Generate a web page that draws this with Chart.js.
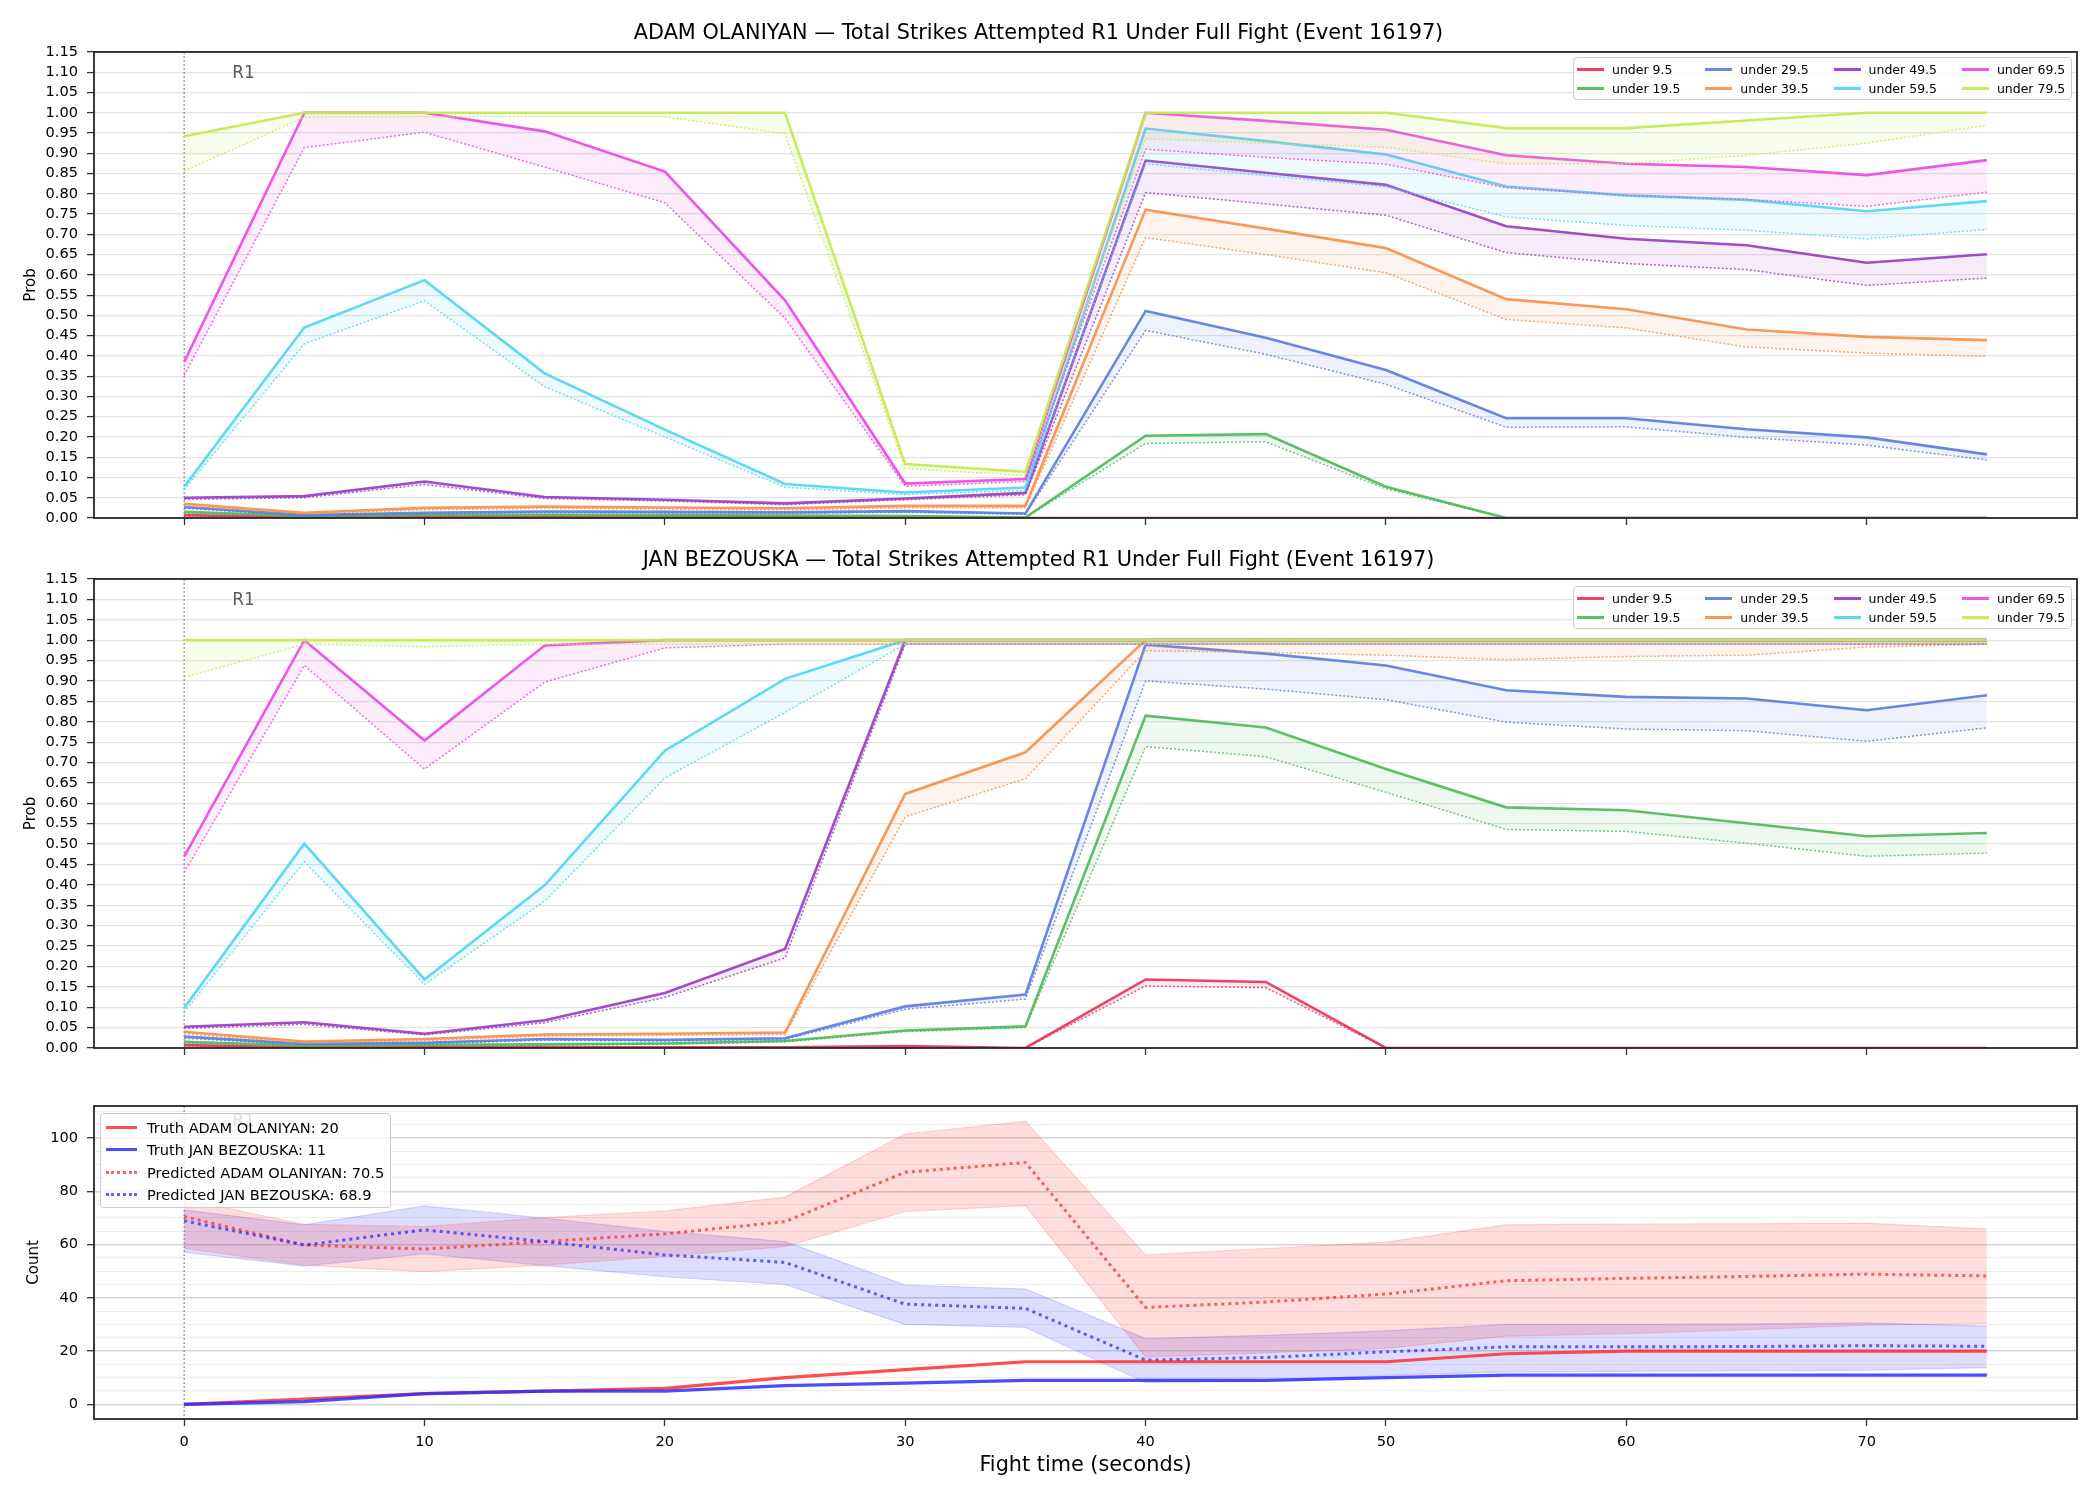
<!DOCTYPE html>
<html>
<head>
<meta charset="utf-8">
<script src="https://cdn.jsdelivr.net/npm/chart.js@4.4.1/dist/chart.umd.min.js"></script>
<style>
  body { margin: 0; background: #fff; }
  #page { position: relative; width: 2100px; height: 1500px; overflow: hidden; background: #fff; font-family: 'DejaVu Sans', sans-serif; }
  .panel { position: absolute; left: 0; }
  .legend { position: absolute; box-sizing: border-box; background: rgba(255,255,255,0.8); border: 1px solid #cccccc; border-radius: 4px; color: #000; }
  .legend.thr { display: grid; grid-template-rows: 19.4px 19.4px; grid-auto-flow: column; grid-auto-columns: 128.3px; padding: 1.6px 0 0 3px; font-size: 12.5px; }
  .legend.cnt { padding: 1.8px 0 0 5px; font-size: 14.6px; }
  .item { display: flex; align-items: center; white-space: nowrap; }
  .thr .item { height: 19.4px; }
  .cnt .item { height: 22.5px; }
  .sw { display: inline-block; height: 0; }
  .thr .sw { width: 27px; margin-right: 8px; border-top: 3px solid; }
  .cnt .sw { width: 31px; margin-right: 10px; border-top-width: 3.5px; }
</style>
</head>
<body>
<div id="page">
  <canvas id="c1" class="panel" width="2100" height="545" style="top:0px"></canvas>
  <canvas id="c2" class="panel" width="2100" height="535" style="top:540px"></canvas>
  <canvas id="c3" class="panel" width="2100" height="420" style="top:1080px"></canvas>
  <div id="leg1" class="legend thr" style="left:1573px; top:57px; width:499px; height:43px"></div>
  <div id="leg2" class="legend thr" style="left:1573px; top:586px; width:499px; height:43px"></div>
  <div id="leg3" class="legend cnt" style="left:100px; top:1113px; width:291px; height:95px"></div>
</div>
<script>
// ---- data ----
const times = [0, 5, 10, 15, 20, 25, 30, 35, 40, 45, 50, 55, 60, 65, 70, 75];
const thresholds = [9.5, 19.5, 29.5, 39.5, 49.5, 59.5, 69.5, 79.5];
const probTicks = [0.00, 0.05, 0.10, 0.15, 0.20, 0.25, 0.30, 0.35, 0.40, 0.45, 0.50, 0.55,
                   0.60, 0.65, 0.70, 0.75, 0.80, 0.85, 0.90, 0.95, 1.00, 1.05, 1.10, 1.15];
const timeTicks = [0, 10, 20, 30, 40, 50, 60, 70];
const countTicks = [0, 5, 10, 15, 20, 25, 30, 35, 40, 45, 50, 55, 60, 65, 70, 75, 80, 85, 90, 95, 100, 105, 110];
const countLabelTicks = [0, 20, 40, 60, 80, 100];

const fighterA = 'ADAM OLANIYAN';
const fighterB = 'JAN BEZOUSKA';
const eventId = 16197;
const roundStart = 0;
const roundLabel = 'R1';

// ADAM OLANIYAN: solid and dotted curves per threshold
const olaU9   = [0.007, 0.002, 0.003, 0.002, 0.002, 0.002, 0.002, 0, 0, 0, 0, 0, 0, 0, 0, 0];
const olaU9d  = [0.005, 0.001, 0.002, 0.001, 0.001, 0.001, 0.001, 0, 0, 0, 0, 0, 0, 0, 0, 0];
const olaU19  = [0.015, 0.005, 0.008, 0.008, 0.007, 0.006, 0.005, 0.001, 0.203, 0.207, 0.077, 0, 0, 0, 0, 0];
const olaU19d = [0.012, 0.004, 0.006, 0.006, 0.005, 0.005, 0.004, 0.001, 0.184, 0.188, 0.072, 0, 0, 0, 0, 0];
const olaU29  = [0.027, 0.007, 0.013, 0.016, 0.015, 0.014, 0.017, 0.011, 0.511, 0.445, 0.365, 0.246, 0.246, 0.219, 0.199, 0.157];
const olaU29d = [0.024, 0.005, 0.010, 0.013, 0.012, 0.011, 0.014, 0.009, 0.463, 0.404, 0.330, 0.224, 0.225, 0.199, 0.180, 0.143];
const olaU39  = [0.035, 0.013, 0.025, 0.028, 0.026, 0.024, 0.030, 0.030, 0.761, 0.714, 0.666, 0.540, 0.515, 0.465, 0.447, 0.439];
const olaU39d = [0.030, 0.010, 0.020, 0.024, 0.022, 0.020, 0.025, 0.025, 0.692, 0.650, 0.605, 0.490, 0.469, 0.422, 0.407, 0.399];
const olaU49  = [0.050, 0.054, 0.090, 0.052, 0.045, 0.036, 0.048, 0.062, 0.882, 0.852, 0.822, 0.720, 0.689, 0.673, 0.630, 0.651];
const olaU49d = [0.046, 0.050, 0.083, 0.048, 0.042, 0.033, 0.045, 0.057, 0.803, 0.775, 0.747, 0.655, 0.628, 0.613, 0.574, 0.592];
const olaU59  = [0.077, 0.470, 0.587, 0.357, 0.218, 0.084, 0.063, 0.075, 0.961, 0.930, 0.897, 0.818, 0.796, 0.785, 0.757, 0.782];
const olaU59d = [0.070, 0.430, 0.536, 0.324, 0.200, 0.076, 0.058, 0.068, 0.874, 0.845, 0.817, 0.743, 0.722, 0.710, 0.689, 0.712];
const olaU69  = [0.385, 1.000, 1.000, 0.954, 0.855, 0.537, 0.085, 0.096, 1.000, 0.980, 0.958, 0.895, 0.874, 0.866, 0.846, 0.883];
const olaU69d = [0.352, 0.914, 0.952, 0.866, 0.778, 0.493, 0.078, 0.090, 0.910, 0.890, 0.873, 0.815, 0.796, 0.786, 0.769, 0.804];
const olaU79  = [0.942, 1.000, 1.000, 1.000, 1.000, 1.000, 0.133, 0.114, 1.000, 1.000, 1.000, 0.962, 0.962, 0.981, 1.000, 1.000];
const olaU79d = [0.856, 0.989, 0.990, 0.990, 0.990, 0.948, 0.122, 0.105, 0.936, 0.925, 0.915, 0.874, 0.874, 0.895, 0.925, 0.969];

// JAN BEZOUSKA
const bezU9   = [0.007, 0.002, 0.002, 0.002, 0.002, 0.002, 0.005, 0, 0.168, 0.162, 0, 0, 0, 0, 0, 0];
const bezU9d  = [0.005, 0.001, 0.001, 0.001, 0.001, 0.001, 0.004, 0, 0.152, 0.148, 0, 0, 0, 0, 0, 0];
const bezU19  = [0.015, 0.006, 0.008, 0.009, 0.011, 0.017, 0.043, 0.053, 0.815, 0.786, 0.684, 0.590, 0.583, 0.551, 0.519, 0.527];
const bezU19d = [0.012, 0.005, 0.006, 0.007, 0.009, 0.015, 0.040, 0.050, 0.739, 0.714, 0.627, 0.536, 0.531, 0.502, 0.470, 0.478];
const bezU29  = [0.028, 0.010, 0.013, 0.022, 0.020, 0.024, 0.102, 0.131, 0.989, 0.967, 0.938, 0.877, 0.861, 0.857, 0.828, 0.865];
const bezU29d = [0.024, 0.008, 0.010, 0.019, 0.017, 0.021, 0.095, 0.120, 0.900, 0.880, 0.854, 0.799, 0.782, 0.778, 0.752, 0.785];
const bezU39  = [0.040, 0.016, 0.022, 0.033, 0.035, 0.038, 0.623, 0.725, 1.000, 1.000, 1.000, 1.000, 1.000, 1.000, 1.000, 1.000];
const bezU39d = [0.035, 0.012, 0.018, 0.029, 0.031, 0.033, 0.567, 0.660, 0.974, 0.970, 0.963, 0.952, 0.960, 0.963, 0.983, 0.990];
const bezU49  = [0.052, 0.063, 0.035, 0.068, 0.135, 0.243, 1.000, 1.000, 1.000, 1.000, 1.000, 1.000, 1.000, 1.000, 1.000, 1.000];
const bezU49d = [0.048, 0.058, 0.032, 0.062, 0.124, 0.221, 0.990, 0.990, 0.990, 0.990, 0.990, 0.990, 0.990, 0.990, 0.990, 0.990];
const bezU59  = [0.098, 0.501, 0.168, 0.399, 0.729, 0.905, 1.000, 1.000, 1.000, 1.000, 1.000, 1.000, 1.000, 1.000, 1.000, 1.000];
const bezU59d = [0.088, 0.457, 0.156, 0.360, 0.662, 0.823, 0.990, 0.990, 0.990, 0.990, 0.990, 0.990, 0.990, 0.990, 0.990, 0.990];
const bezU69  = [0.469, 1.000, 0.754, 0.987, 1.000, 1.000, 1.000, 1.000, 1.000, 1.000, 1.000, 1.000, 1.000, 1.000, 1.000, 1.000];
const bezU69d = [0.430, 0.938, 0.684, 0.897, 0.981, 0.990, 0.990, 0.990, 0.990, 0.990, 0.990, 0.990, 0.990, 0.990, 0.990, 0.990];
const bezU79  = [1.000, 1.000, 1.000, 1.000, 1.000, 1.000, 1.000, 1.000, 1.000, 1.000, 1.000, 1.000, 1.000, 1.000, 1.000, 1.000];
const bezU79d = [0.909, 0.990, 0.984, 0.990, 0.990, 0.990, 0.990, 0.990, 0.990, 0.990, 0.990, 0.990, 0.990, 0.990, 0.990, 0.990];

// Counts
const truthA  = [0, 2, 4, 5, 6, 10, 13, 16, 16, 16, 16, 19, 20, 20, 20, 20];
const truthB  = [0, 1, 4, 5, 5, 7, 8, 9, 9, 9, 10, 11, 11, 11, 11, 11];
const predA   = [70.5, 59.8, 58.3, 61.1, 64.0, 68.6, 87.1, 90.8, 36.4, 38.4, 41.4, 46.4, 47.3, 48.0, 48.9, 48.2];
const predB   = [68.9, 59.8, 65.5, 61.1, 56.1, 53.3, 37.6, 36.0, 16.6, 17.6, 19.7, 21.6, 21.6, 21.7, 22.0, 21.8];
const predAHi = [77.0, 67.6, 66.7, 70.1, 72.6, 77.8, 101.5, 106.3, 56.1, 58.5, 60.9, 67.4, 67.7, 67.8, 68.0, 65.8];
const predALo = [58.6, 52.3, 49.8, 52.3, 55.5, 59.2, 72.4, 74.6, 17.8, 19.3, 21.0, 25.6, 26.5, 28.0, 29.7, 30.4];
const predBHi = [73.0, 67.4, 74.5, 69.9, 64.9, 61.1, 44.8, 43.3, 24.7, 25.9, 27.6, 30.0, 30.0, 30.2, 30.6, 29.4];
const predBLo = [57.1, 51.9, 56.5, 52.1, 47.9, 45.0, 30.0, 28.9, 8.2, 8.6, 10.9, 12.2, 12.4, 12.6, 12.8, 13.8];

// ---- styling ----
const thrColors = ['#e8345a', '#4fba5a', '#5a7de0', '#f7904b', '#9a3dc4', '#50d6f2', '#ee46e6', '#c2ec4e'];
const colA = '#ff2e2e';
const colB = '#2e2eff';

Chart.defaults.font.family = "'DejaVu Sans', sans-serif";
Chart.defaults.color = '#000';

const rgba = (hex, a) => {
  const n = parseInt(hex.slice(1), 16);
  return `rgba(${n >> 16},${(n >> 8) & 255},${n & 255},${a})`;
};
const pts = arr => arr.map((v, i) => ({ x: times[i], y: v }));

// spines round the plot area
const framePlugin = {
  id: 'frame',
  afterDraw(chart) {
    const { ctx, chartArea: a } = chart;
    ctx.save();
    ctx.strokeStyle = '#262626';
    ctx.lineWidth = 1.8;
    ctx.strokeRect(a.left, a.top, a.right - a.left, a.bottom - a.top);
    ctx.restore();
  }
};

// round start marker
const roundPlugin = {
  id: 'roundMark',
  beforeDatasetsDraw(chart, args, opts) {
    const { ctx, chartArea: a, scales: { x } } = chart;
    const px = x.getPixelForValue(roundStart);
    ctx.save();
    ctx.strokeStyle = '#777';
    ctx.lineWidth = 1;
    ctx.setLineDash([2, 2]);
    ctx.beginPath();
    ctx.moveTo(px, a.top);
    ctx.lineTo(px, a.bottom);
    ctx.stroke();
    ctx.setLineDash([]);
    ctx.fillStyle = '#5a5a5a';
    ctx.font = "17px 'DejaVu Sans'";
    ctx.textBaseline = 'middle';
    ctx.fillText(roundLabel, x.getPixelForValue(roundStart + 2), a.top + opts.yFrac * (a.bottom - a.top));
    ctx.restore();
  }
};

const timeScale = (showLabels) => ({
  type: 'linear',
  min: -3.75,
  max: 78.75,
  afterBuildTicks: s => { s.ticks = timeTicks.map(v => ({ value: v })); },
  afterFit: s => { s.height = showLabels ? 81 : 27; },
  ticks: { display: showLabels, padding: 7, maxRotation: 0, autoSkip: false, font: { size: 14.6 } },
  grid: { drawOnChartArea: false, drawTicks: true, tickLength: 7, tickColor: '#333', tickWidth: 1.3 },
  border: { display: false },
  title: { display: showLabels, text: 'Fight time (seconds)', font: { size: 20.8 }, padding: { top: 0, bottom: 22 } }
});

function thresholdDatasets(solids, dots) {
  const ds = [];
  // highest threshold first so it is drawn on top
  for (let i = thresholds.length - 1; i >= 0; i--) {
    const c = thrColors[i];
    ds.push({
      label: 'under ' + thresholds[i],
      data: pts(solids[i]),
      borderColor: rgba(c, 0.92),
      borderWidth: 2.6,
      fill: false
    });
    ds.push({
      label: 'under ' + thresholds[i] + ' dotted',
      data: pts(dots[i]),
      borderColor: rgba(c, 0.8),
      borderWidth: 1.5,
      borderDash: [2, 2],
      backgroundColor: rgba(c, 0.1),
      fill: '-1'
    });
  }
  return ds;
}

function probChart(id, fighter, solids, dots, titlePadTop) {
  return new Chart(document.getElementById(id), {
    type: 'line',
    data: { datasets: thresholdDatasets(solids, dots) },
    options: {
      responsive: false,
      animation: false,
      devicePixelRatio: 1,
      layout: { padding: { left: 0, right: 23, top: 0, bottom: 0 } },
      elements: { point: { radius: 0 }, line: { tension: 0 } },
      plugins: {
        legend: { display: false },
        tooltip: { enabled: false },
        title: {
          display: true,
          text: `${fighter} — Total Strikes Attempted R1 Under Full Fight (Event ${eventId})`,
          font: { size: 20.8, weight: 'normal' },
          color: '#000',
          padding: { top: titlePadTop, bottom: 6 }
        },
        roundMark: { yFrac: 0.047 }
      },
      scales: {
        x: timeScale(false),
        y: {
          min: 0,
          max: 1.15,
          afterBuildTicks: s => { s.ticks = probTicks.map(v => ({ value: v })); },
          afterFit: s => { s.width = 94; },
          ticks: { callback: v => v.toFixed(2), padding: 9, autoSkip: false, font: { size: 14.6 } },
          grid: { color: '#e3e3e3', lineWidth: 1.2, tickLength: 7, tickColor: '#333', tickWidth: 1.3 },
          border: { display: false },
          title: { display: true, text: 'Prob', font: { size: 15 }, padding: { top: 22, bottom: 0 } }
        }
      }
    },
    plugins: [framePlugin, roundPlugin]
  });
}

probChart('c1', fighterA,
  [olaU9, olaU19, olaU29, olaU39, olaU49, olaU59, olaU69, olaU79],
  [olaU9d, olaU19d, olaU29d, olaU39d, olaU49d, olaU59d, olaU69d, olaU79d], 21);

probChart('c2', fighterB,
  [bezU9, bezU19, bezU29, bezU39, bezU49, bezU59, bezU69, bezU79],
  [bezU9d, bezU19d, bezU29d, bezU39d, bezU49d, bezU59d, bezU69d, bezU79d], 8);

// count panel
const isMajor = v => countLabelTicks.includes(v);
new Chart(document.getElementById('c3'), {
  type: 'line',
  data: {
    datasets: [
      { label: `Truth ${fighterB}`, data: pts(truthB), borderColor: rgba(colB, 0.85), borderWidth: 3.2, fill: false },
      { label: `Truth ${fighterA}`, data: pts(truthA), borderColor: rgba(colA, 0.85), borderWidth: 3.2, fill: false },
      { label: `Predicted ${fighterB}`, data: pts(predB), borderColor: rgba(colB, 0.75), borderWidth: 3, borderDash: [3, 4], fill: false },
      { label: `Predicted ${fighterA}`, data: pts(predA), borderColor: rgba(colA, 0.75), borderWidth: 3, borderDash: [3, 4], fill: false },
      { label: 'bandA hi', data: pts(predAHi), borderColor: rgba(colA, 0.18), borderWidth: 1.2, backgroundColor: rgba(colA, 0.16), fill: '+1' },
      { label: 'bandA lo', data: pts(predALo), borderColor: rgba(colA, 0.18), borderWidth: 1.2, fill: false },
      { label: 'bandB hi', data: pts(predBHi), borderColor: rgba(colB, 0.18), borderWidth: 1.2, backgroundColor: rgba(colB, 0.16), fill: '+1' },
      { label: 'bandB lo', data: pts(predBLo), borderColor: rgba(colB, 0.18), borderWidth: 1.2, fill: false }
    ]
  },
  options: {
    responsive: false,
    animation: false,
    devicePixelRatio: 1,
    layout: { padding: { left: 0, right: 23, top: 26, bottom: 0 } },
    elements: { point: { radius: 0 }, line: { tension: 0 } },
    plugins: {
      legend: { display: false },
      tooltip: { enabled: false },
      roundMark: { yFrac: 0.05 }
    },
    scales: {
      x: timeScale(true),
      y: {
        min: -5.5,
        max: 112,
        afterBuildTicks: s => { s.ticks = countTicks.map(v => ({ value: v })); },
        afterFit: s => { s.width = 94; },
        ticks: { callback: v => (isMajor(v) ? String(v) : ''), padding: 9, autoSkip: false, font: { size: 14.6 } },
        grid: {
          color: c => (isMajor(c.tick.value) ? '#d4d4d4' : '#ececec'),
          lineWidth: c => (isMajor(c.tick.value) ? 1.4 : 1.1),
          tickLength: 7,
          tickColor: c => (isMajor(c.tick.value) ? '#333' : 'rgba(0,0,0,0)'),
          tickWidth: 1.3
        },
        border: { display: false },
        title: { display: true, text: 'Count', font: { size: 15 }, padding: { top: 25, bottom: 0 } }
      }
    }
  },
  plugins: [framePlugin, roundPlugin]
});

// ---- legends ----
function thresholdLegend(id) {
  const el = document.getElementById(id);
  thresholds.forEach((t, i) => {
    const item = document.createElement('div');
    item.className = 'item';
    item.innerHTML = `<span class="sw" style="border-top-color:${rgba(thrColors[i], 0.92)}"></span><span>under ${t}</span>`;
    el.appendChild(item);
  });
}
thresholdLegend('leg1');
thresholdLegend('leg2');

const countLegend = [
  { text: `Truth ${fighterA}: ${truthA[truthA.length - 1]}`, color: rgba(colA, 0.85), style: 'solid' },
  { text: `Truth ${fighterB}: ${truthB[truthB.length - 1]}`, color: rgba(colB, 0.85), style: 'solid' },
  { text: `Predicted ${fighterA}: ${predA[0]}`, color: rgba(colA, 0.75), style: 'dotted' },
  { text: `Predicted ${fighterB}: ${predB[0]}`, color: rgba(colB, 0.75), style: 'dotted' }
];
const leg3 = document.getElementById('leg3');
countLegend.forEach(e => {
  const item = document.createElement('div');
  item.className = 'item';
  item.innerHTML = `<span class="sw" style="border-top-style:${e.style}; border-top-color:${e.color}"></span><span>${e.text}</span>`;
  leg3.appendChild(item);
});
</script>
</body>
</html>
